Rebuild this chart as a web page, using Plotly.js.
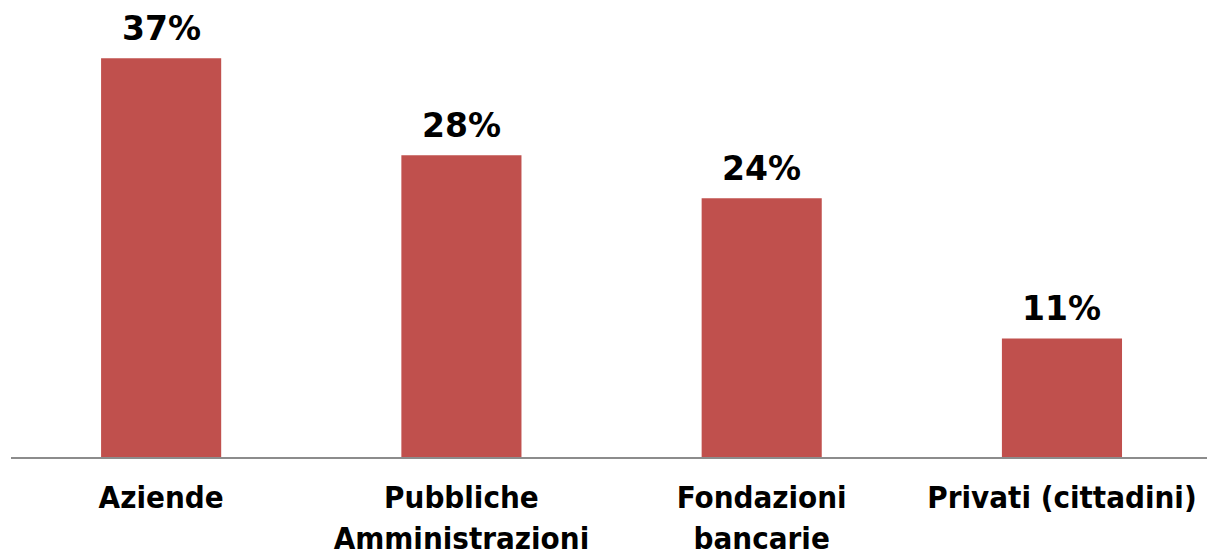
<!DOCTYPE html>
<html><head><meta charset="utf-8">
<script src="https://cdn.plot.ly/plotly-3.0.1.min.js"></script>
<style>html,body{margin:0;padding:0;background:#fff}#c{width:1207px;height:555px}</style>
</head><body><div id="c"></div>
<script>
const categories = ["Aziende", "Pubbliche<br>Amministrazioni", "Fondazioni<br>bancarie", "Privati (cittadini)"];
const values = [37, 28, 24, 11];
const labels = ["37%", "28%", "24%", "11%"];

const TICKFONT = '"DejaVu Sans Condensed", "DejaVu Sans", sans-serif';
const LABELFONT = '"DejaVu Sans", sans-serif';

const trace = {
  type: 'bar',
  x: categories,
  y: values,
  width: 0.4,
  marker: {color: '#C0504D'},
  hoverinfo: 'none'
};

const annotations = categories.map((c, i) => ({
  x: c, y: values[i], xref: 'x', yref: 'y',
  text: '<b>' + labels[i] + '</b>',
  showarrow: false, yanchor: 'bottom', yshift: 8,
  font: {family: LABELFONT, size: 33, color: '#000'}
}));

const layout = {
  width: 1207, height: 555,
  margin: {l: 11, r: 0, t: 0, b: 98},
  paper_bgcolor: '#fff', plot_bgcolor: '#fff',
  showlegend: false,
  xaxis: {
    type: 'category',
    range: [-0.5, 3.483],
    showline: true, linecolor: '#8c8c8c', linewidth: 2,
    ticks: '', showgrid: false, zeroline: false,
    tickfont: {family: TICKFONT, size: 31, color: '#000', weight: 'bold'},
    ticklabelstandoff: 12
  },
  yaxis: {
    range: [0, 42.4], visible: false, showgrid: false, zeroline: false
  },
  annotations: annotations
};

Plotly.newPlot('c', [trace], layout, {displayModeBar: false, staticPlot: true});
</script></body></html>
